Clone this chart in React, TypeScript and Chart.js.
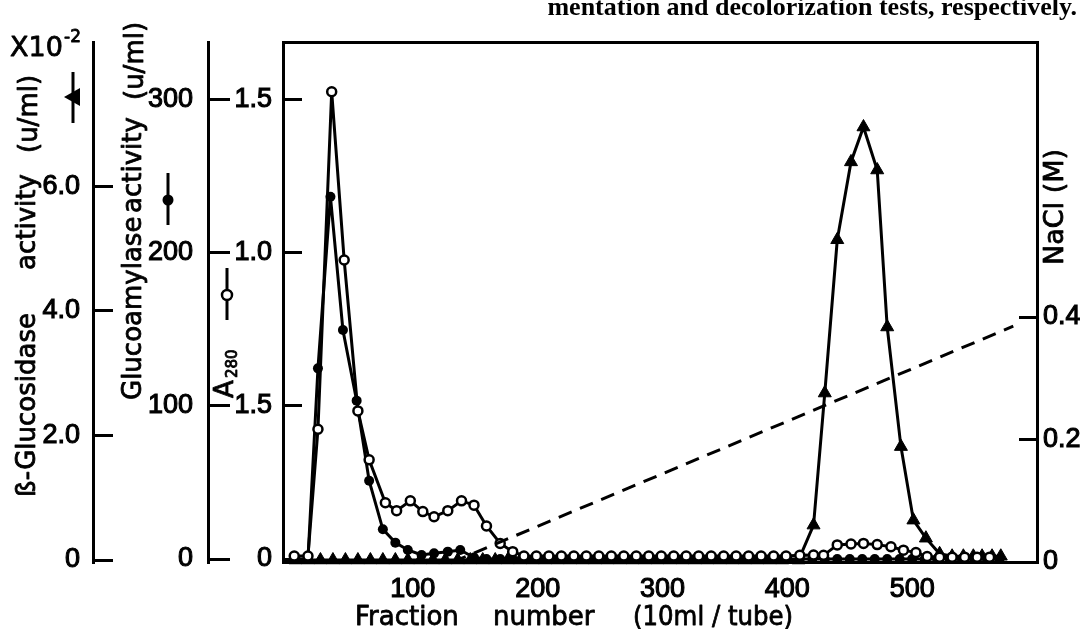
import React, { useEffect, useRef } from 'react';
import { Chart, registerables } from 'chart.js';

Chart.register(...registerables);

// ---------- tick labels ----------
const fractionTicks = [100, 200, 300, 400, 500];
const a280TickValues = [0, 0.5, 1.0, 1.5];
const a280TickLabels = ['0', '1.5', '1.0', '1.5'];
const glucoTickValues = [0, 100, 200, 300];
const glucoTickLabels = ['0', '100', '200', '300'];
const betaTickValues = [0, 2, 4, 6];
const betaTickLabels = ['0', '2.0', '4.0', '6.0'];
const naclTickValues = [0, 0.2, 0.4];
const naclTickLabels = ['0', '0.2', '0.4'];

// ---------- A280 (open circles) ----------
const a280Fractions = [
  5, 16, 24, 35, 45, 56, 65, 78, 87, 98,
  108, 117, 128, 139, 149, 159, 170, 180, 189, 199,
  209, 219, 229, 239, 249, 259, 269, 279, 289, 299,
  309, 319, 329, 339, 349, 359, 369, 379, 389, 399,
  410, 421, 429, 440, 451, 461, 472, 483, 493, 503,
  512, 522, 532, 542, 552, 562,
];
const a280Values = [
  0.01, 0.01, 0.424, 1.527, 0.977, 0.484, 0.324, 0.184, 0.158, 0.19,
  0.155, 0.138, 0.158, 0.19, 0.176, 0.108, 0.051, 0.024, 0.01, 0.01,
  0.01, 0.01, 0.01, 0.01, 0.01, 0.01, 0.01, 0.01, 0.01, 0.01,
  0.01, 0.01, 0.01, 0.01, 0.01, 0.01, 0.01, 0.01, 0.01, 0.01,
  0.012, 0.013, 0.012, 0.046, 0.049, 0.051, 0.047, 0.04, 0.029, 0.021,
  0.008, 0.006, 0.006, 0.006, 0.006, 0.006,
];

// ---------- Glucoamylase activity (filled circles) ----------
const glucoFractions = [
  6, 16, 24, 34, 44, 55, 65, 76, 86, 96,
  107, 117, 128, 138, 149, 159, 170, 180, 190, 200,
  210, 220, 230, 240, 250, 260, 270, 280, 290, 300,
  310, 320, 330, 340, 350, 360, 370, 380, 390, 400,
  410, 420, 430, 440, 450, 460, 470, 480, 490, 500,
  510, 520, 530, 540, 550, 560, 570,
];
const glucoValues = [
  0, 0, 124.6, 236.8, 149.7, 103.5, 51.2, 19.4, 10.7, 5.9,
  2.6, 3.7, 4.8, 5.9, 1.0, 0, 0, 0, 0, 0,
  0, 0, 0, 0, 0, 0, 0, 0, 0, 0,
  0, 0, 0, 0, 0, 0, 0, 0, 0, 0,
  0, 0, 0, 0, 0, 0, 0, 0, 0, 0,
  0, 0, 0, 0, 0, 0, 0,
];

// ---------- beta-Glucosidase activity (filled triangles, x10^-2) ----------
const betaFractions = [
  6, 16, 26, 36, 46, 56, 66, 76, 86, 96,
  106, 116, 126, 136, 146, 156, 166, 176, 186, 196,
  206, 216, 226, 236, 246, 256, 266, 276, 286, 296,
  306, 316, 326, 336, 346, 356, 366, 376, 386, 396,
  409, 421, 430, 440, 451, 461, 472, 480, 491, 501,
  511, 522, 532, 541, 549, 556, 564, 571,
];
const betaValues = [
  0, 0, 0, 0, 0, 0, 0, 0, 0, 0,
  0, 0, 0, 0, 0, 0, 0, 0, 0, 0,
  0, 0, 0, 0, 0, 0, 0, 0, 0, 0,
  0, 0, 0, 0, 0, 0, 0, 0, 0, 0,
  0, 0.56, 2.68, 5.14, 6.39, 6.95, 6.26, 3.74, 1.82, 0.64,
  0.35, 0.1, 0.06, 0.06, 0.06, 0.06, 0.06, 0.06,
];

// ---------- NaCl gradient (dashed) ----------
const naclFractions = [132, 581];
const naclValues = [0, 0.385];

const captionText = 'mentation and decolorization tests, respectively.';

const zip = (xs: number[], ys: number[]) => xs.map((x, i) => ({ x, y: ys[i] }));

const TITLE_FONT = '26px "DejaVu Sans"';

const annotationPlugin = {
  id: 'annotationPlugin',
  afterDraw(chart: any) {
    const ctx = chart.ctx as CanvasRenderingContext2D;
    ctx.save();
    ctx.fillStyle = '#000';
    ctx.strokeStyle = '#000';

    // caption remnant at the top
    ctx.font = 'bold 26px "Liberation Serif"';
    ctx.textAlign = 'right';
    ctx.textBaseline = 'alphabetic';
    ctx.fillText(captionText, 1077, 15);

    const heavy = (text: string, x: number, y: number, maxW?: number) => {
      ctx.lineWidth = 0.8;
      ctx.lineJoin = 'round';
      if (maxW) {
        ctx.fillText(text, x, y, maxW);
        ctx.strokeText(text, x, y, maxW);
      } else {
        ctx.fillText(text, x, y);
        ctx.strokeText(text, x, y);
      }
    };

    const rot = (text: string, x: number, y: number, font: string) => {
      ctx.save();
      ctx.translate(x, y);
      ctx.rotate(-Math.PI / 2);
      ctx.font = font;
      ctx.textAlign = 'left';
      ctx.textBaseline = 'alphabetic';
      heavy(text, 0, 0);
      ctx.restore();
    };

    // beta-glucosidase title
    rot('ß-Glucosidase', 35, 497, TITLE_FONT);
    rot('activity', 35, 270, TITLE_FONT);
    rot('(u/ml)', 37, 153, TITLE_FONT);

    // glucoamylase title
    rot('Glucoamylase', 141, 400, TITLE_FONT);
    rot('activity', 141, 213, TITLE_FONT);
    rot('(u/ml)', 143, 100, TITLE_FONT);

    // A280
    rot('A', 233, 398, TITLE_FONT);
    rot('280', 237, 378, '15px "DejaVu Sans"');

    // NaCl (M)
    rot('NaCl (M)', 1063, 265, '27px "DejaVu Sans"');

    // X10^-2
    ctx.textAlign = 'left';
    ctx.font = '27px "DejaVu Sans"';
    heavy('X10', 10, 56);
    ctx.font = '17px "DejaVu Sans"';
    heavy('-2', 64, 42);

    // x-axis title
    ctx.font = TITLE_FONT;
    heavy('Fraction', 355, 625);
    heavy('number', 493, 625);
    heavy('(10ml / tube)', 633, 625, 160);

    // legend marks beside the axis titles
    ctx.lineWidth = 3;
    // triangle (beta)
    ctx.beginPath();
    ctx.moveTo(73, 72);
    ctx.lineTo(73, 123);
    ctx.stroke();
    ctx.beginPath();
    ctx.moveTo(64, 97);
    ctx.lineTo(80, 88);
    ctx.lineTo(80, 106);
    ctx.closePath();
    ctx.fill();
    // filled circle (glucoamylase)
    ctx.beginPath();
    ctx.moveTo(168, 173);
    ctx.lineTo(168, 225);
    ctx.stroke();
    ctx.beginPath();
    ctx.arc(168, 200, 5.5, 0, Math.PI * 2);
    ctx.fill();
    // open circle (A280)
    ctx.beginPath();
    ctx.moveTo(227, 268);
    ctx.lineTo(227, 289);
    ctx.moveTo(227, 301);
    ctx.lineTo(227, 320);
    ctx.stroke();
    ctx.beginPath();
    ctx.lineWidth = 2.5;
    ctx.arc(227, 295, 5, 0, Math.PI * 2);
    ctx.fillStyle = '#fff';
    ctx.fill();
    ctx.stroke();

    ctx.restore();
  },
};

const fixedTicks = (values: number[]) => (scale: any) => {
  scale.ticks = values.map((v) => ({ value: v }));
};
const labelFor = (values: number[], labels: string[]) => (v: any) => {
  const i = values.indexOf(Number(v));
  return i >= 0 ? labels[i] : '';
};
const fitWidth = (w: number) => (s: any) => {
  s.width = w;
  s.paddingTop = 0;
  s.paddingBottom = 0;
  s.paddingLeft = 0;
  s.paddingRight = 0;
};
const fitHeight = (h: number) => (s: any) => {
  s.height = h;
  s.paddingTop = 0;
  s.paddingBottom = 0;
  s.paddingLeft = 0;
  s.paddingRight = 0;
};

export default function App() {
  const canvasRef = useRef<HTMLCanvasElement | null>(null);

  useEffect(() => {
    if (!canvasRef.current) return;
    Chart.defaults.font.family = '"Liberation Sans", sans-serif';
    Chart.defaults.color = '#000';
    const tickFont = { size: 27, family: '"Liberation Sans", sans-serif' };
    const tickStroke = { textStrokeColor: '#000', textStrokeWidth: 1.1 };
    const axisLine = { display: true, color: '#000', width: 3 };

    const chart = new Chart(canvasRef.current, {
      type: 'line',
      data: {
        datasets: [
          {
            label: 'NaCl',
            data: zip(naclFractions, naclValues),
            yAxisID: 'yN',
            borderColor: '#000',
            borderWidth: 3,
            borderDash: [14, 9],
            pointRadius: 0,
            fill: false,
            clip: false as any,
          },
          {
            label: 'A280',
            data: zip(a280Fractions, a280Values),
            yAxisID: 'yA',
            borderColor: '#000',
            borderWidth: 3,
            pointStyle: 'circle',
            pointRadius: 4.5,
            pointBorderWidth: 2.5,
            pointBackgroundColor: '#fff',
            pointBorderColor: '#000',
            fill: false,
            clip: false as any,
          },
          {
            label: 'Glucoamylase',
            data: zip(glucoFractions, glucoValues),
            yAxisID: 'yG',
            borderColor: '#000',
            borderWidth: 3,
            pointStyle: 'circle',
            pointRadius: 5,
            pointBorderWidth: 0,
            pointBackgroundColor: '#000',
            pointBorderColor: '#000',
            fill: false,
            clip: false as any,
          },
          {
            label: 'beta-Glucosidase',
            data: zip(betaFractions, betaValues),
            yAxisID: 'yB',
            borderColor: '#000',
            borderWidth: 3,
            pointStyle: 'triangle',
            pointRadius: 7.5,
            pointBorderWidth: 1,
            pointBackgroundColor: '#000',
            pointBorderColor: '#000',
            fill: false,
            clip: false as any,
          },
        ],
      },
      options: {
        responsive: false,
        animation: false,
        devicePixelRatio: 1,
        layout: { padding: { top: 42, bottom: 0, left: 0, right: 0 } },
        plugins: { legend: { display: false }, tooltip: { enabled: false }, title: { display: false } },
        elements: { line: { tension: 0 } },
        scales: {
          x: {
            type: 'linear',
            position: 'bottom',
            min: -4,
            max: 600,
            afterBuildTicks: fixedTicks(fractionTicks),
            afterFit: fitHeight(67),
            ticks: { font: tickFont, ...tickStroke, color: '#000', padding: 11, maxRotation: 0, autoSkip: false, callback: (v: any) => String(v) },
            grid: { display: false, drawTicks: false },
            border: axisLine,
          },
          xTop: {
            type: 'linear',
            position: 'top',
            min: -4,
            max: 600,
            afterFit: fitHeight(0),
            ticks: { display: false },
            grid: { display: false, drawTicks: false },
            border: axisLine,
          },
          yA: {
            type: 'linear',
            position: 'left',
            weight: 0,
            min: -0.0098,
            max: 1.6895,
            afterBuildTicks: fixedTicks(a280TickValues),
            afterFit: fitWidth(75),
            ticks: { font: tickFont, ...tickStroke, color: '#000', padding: 30, autoSkip: false, callback: labelFor(a280TickValues, a280TickLabels) },
            grid: { drawOnChartArea: false, drawTicks: true, tickLength: -19, lineWidth: 3, color: '#000' },
            border: axisLine,
          },
          yG: {
            type: 'linear',
            position: 'left',
            weight: 1,
            min: -1.96,
            max: 337.9,
            afterBuildTicks: fixedTicks(glucoTickValues),
            afterFit: fitWidth(115),
            ticks: { font: tickFont, ...tickStroke, color: '#000', padding: 37, autoSkip: false, callback: labelFor(glucoTickValues, glucoTickLabels) },
            grid: { drawOnChartArea: false, drawTicks: true, tickLength: -22, lineWidth: 3, color: '#000' },
            border: axisLine,
          },
          yB: {
            type: 'linear',
            position: 'left',
            weight: 2,
            min: -0.0321,
            max: 8.3146,
            afterBuildTicks: fixedTicks(betaTickValues),
            afterFit: fitWidth(93),
            ticks: { font: tickFont, ...tickStroke, color: '#000', padding: 33, autoSkip: false, callback: labelFor(betaTickValues, betaTickLabels) },
            grid: { drawOnChartArea: false, drawTicks: true, tickLength: -20, lineWidth: 3, color: '#000' },
            border: axisLine,
          },
          yN: {
            type: 'linear',
            position: 'right',
            min: 0,
            max: 0.849,
            afterBuildTicks: fixedTicks(naclTickValues),
            afterFit: fitWidth(43),
            ticks: { font: tickFont, ...tickStroke, color: '#000', padding: 24, autoSkip: false, callback: labelFor(naclTickValues, naclTickLabels) },
            grid: { drawOnChartArea: false, drawTicks: true, tickLength: -18, lineWidth: 3, color: '#000' },
            border: axisLine,
          },
        },
      } as any,
      plugins: [annotationPlugin],
    });
    return () => chart.destroy();
  }, []);

  return (
    <div style={{ position: 'absolute', left: 0, top: 0, width: 1080, height: 629, background: '#fff' }}>
      <canvas ref={canvasRef} width={1080} height={629} style={{ display: 'block', width: 1080, height: 629 }} />
    </div>
  );
}
